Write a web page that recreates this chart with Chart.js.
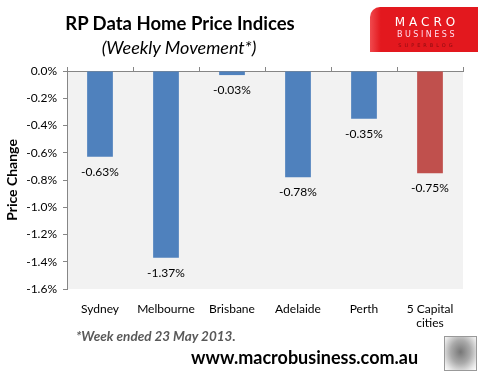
<!DOCTYPE html>
<html>
<head>
<meta charset="utf-8">
<script src="https://cdn.jsdelivr.net/npm/chart.js@4"></script>
<style>
    body { margin: 0; background: #fff; }
    #wrap { position: relative; width: 486px; height: 379px; font-family: Lato, sans-serif; }
    #chart { position: absolute; left: 0; top: 0; }
    .txt { position: absolute; white-space: nowrap; }
    #title { left: 0; width: 360px; top: 12px; text-align: center; font-weight: bold; font-size: 18.5px; color: #000; }
    #subtitle { left: 0; width: 358px; top: 36px; text-align: center; font-style: italic; font-size: 18px; color: #000; }
    #logo { position: absolute; left: 370px; top: 7px; width: 108px; height: 45px;
        background: linear-gradient(90deg, #f04a4e 0%, #e3181e 10%, #e3181e 100%);
        border-top-left-radius: 10px; text-align: center; }
    #logo .m { position: absolute; left: 0; width: 100%; top: 8px; color: #fff; font-family: "DejaVu Sans", sans-serif; font-size: 12px; letter-spacing: 4px; text-indent: 6px; }
    #logo .b { position: absolute; left: 0; width: 100%; top: 23px; color: #fde; font-family: "DejaVu Sans", sans-serif; font-size: 8px; letter-spacing: 2.5px; text-indent: 6px; }
    #logo .s { position: absolute; left: 0; width: 100%; top: 35px; color: #8a0c10; font-family: "DejaVu Sans", sans-serif; font-size: 5px; letter-spacing: 3px; text-indent: 6px; }
    #note { left: 76px; top: 328px; font-style: italic; font-weight: bold; font-size: 13.5px; color: #595959; }
    #url { left: 191px; top: 346px; font-weight: bold; font-size: 18px; color: #000; }
    #wolf { position: absolute; left: 444px; top: 336px; width: 31px; height: 33px; border: 1px solid #999;
        background: radial-gradient(ellipse at 50% 45%, #777 0%, #aaa 45%, #e6e6e6 80%, #fff 100%); }
</style>
</head>
<body>
<div id="wrap">
    <canvas id="chart" width="486" height="379"></canvas>
    <div class="txt" id="title">RP Data Home Price Indices</div>
    <div class="txt" id="subtitle">(Weekly Movement*)</div>
    <div id="logo"><span class="m">MACRO</span><span class="b">BUSINESS</span><span class="s">SUPERBLOG</span></div>
    <div class="txt" id="note">*Week ended 23 May 2013.</div>
    <div class="txt" id="url">www.macrobusiness.com.au</div>
    <div id="wolf"></div>
</div>
<script>
const cities = ["Sydney", "Melbourne", "Brisbane", "Adelaide", "Perth", ["5 Capital", "cities"]];
const weeklyChange = [-0.63, -1.37, -0.03, -0.78, -0.35, -0.75];
const barColors = ["#4f81bd", "#4f81bd", "#4f81bd", "#4f81bd", "#4f81bd", "#c0504d"];

// grey plot background + value labels under each bar
const extras = {
    id: "extras",
    beforeDraw(chart) {
        const a = chart.chartArea;
        const c = chart.ctx;
        c.save();
        c.fillStyle = "#f2f2f2";
        c.fillRect(a.left, a.top, a.right - a.left, a.bottom - a.top);
        c.restore();
    },
    afterDatasetsDraw(chart) {
        const c = chart.ctx;
        const meta = chart.getDatasetMeta(0);
        c.save();
        c.font = "12px Lato";
        c.fillStyle = "#000";
        c.textAlign = "center";
        c.textBaseline = "middle";
        meta.data.forEach((bar, i) => {
            c.fillText(weeklyChange[i].toFixed(2) + "%", bar.x, bar.y + 15);
        });
        c.restore();
    }
};

new Chart(document.getElementById("chart"), {
    type: "bar",
    data: {
        labels: cities,
        datasets: [{
            data: weeklyChange,
            backgroundColor: barColors,
            barPercentage: 0.39,
            categoryPercentage: 1
        }]
    },
    options: {
        responsive: false,
        animation: false,
        layout: { padding: { top: 67, right: 23, bottom: 50, left: 0 } },
        plugins: { legend: { display: false }, tooltip: { enabled: false } },
        scales: {
            x: {
                position: "bottom",
                grid: { display: false },
                border: { display: false },
                ticks: { color: "#000", font: { family: "Lato", size: 12 }, padding: 5, maxRotation: 0 },
                afterFit: s => { s.height = 40; }
            },
            x2: {
                type: "category",
                labels: cities,
                position: "top",
                offset: true,
                grid: { offset: true, drawOnChartArea: false, tickLength: 4, color: "#868686" },
                border: { color: "#868686" },
                ticks: { display: false },
                afterFit: s => { s.height = 4; }
            },
            y: {
                min: -1.6,
                max: 0,
                grid: { drawOnChartArea: false, tickLength: 4, color: "#868686" },
                border: { color: "#868686" },
                ticks: {
                    stepSize: 0.2,
                    padding: 6,
                    color: "#000",
                    font: { family: "Lato", size: 12 },
                    callback: v => v.toFixed(1) + "%"
                },
                title: { display: true, text: "Price Change", color: "#000", font: { family: "Lato", size: 14, weight: "bold" } },
                afterFit: s => { s.width = 67; }
            }
        }
    },
    plugins: [extras]
});
</script>
</body>
</html>
